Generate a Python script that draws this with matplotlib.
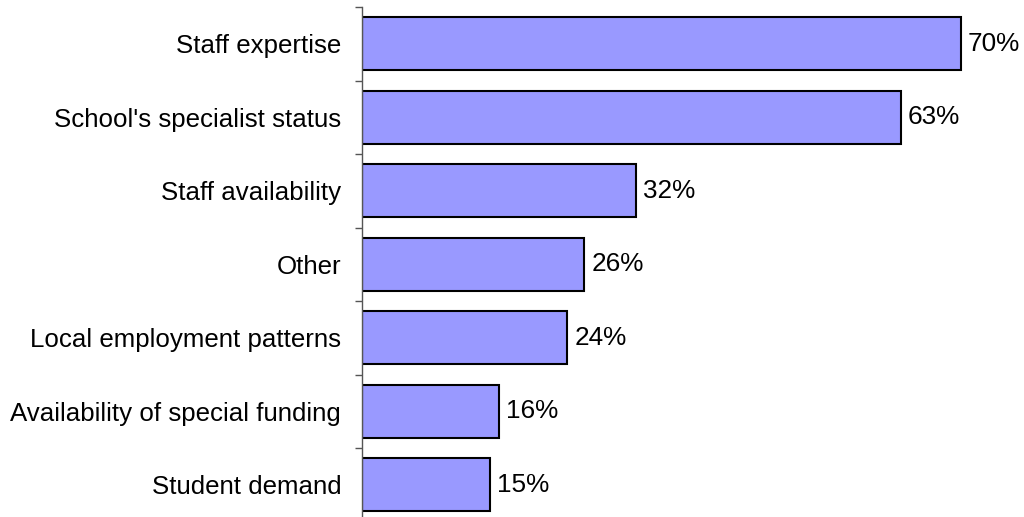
import numpy as np
import matplotlib.pyplot as plt

# data
categories = ["Staff expertise", "School's specialist status", "Staff availability", "Other",
              "Local employment patterns", "Availability of special funding", "Student demand"]
values = [70, 63, 32, 26, 24, 16, 15]

plt.rcParams['font.family'] = ['Liberation Sans', 'DejaVu Sans']

fig = plt.figure(figsize=(10.24, 5.17), dpi=100)
ax = fig.add_axes([362/1024, -4.5/517, 684.6/1024, 514.5/517])

y = np.arange(len(categories))
ax.barh(y, values, height=0.72, color='#9999FF', edgecolor='black', linewidth=1.5)
ax.set_xlim(0, 80)
ax.set_ylim(len(categories) - 0.5, -0.5)

for yi, v in zip(y, values):
    ax.text(v + 0.8, yi, f"{v}%", va='center', ha='left', fontsize=18.8)

ax.set_yticks(y)
ax.set_yticklabels(categories, fontsize=18.6)
ax.tick_params(axis='y', which='major', length=0, pad=15)
ax.set_yticks(np.arange(-0.5, len(categories), 1), minor=True)
ax.tick_params(axis='y', which='minor', length=5, color='#555555', width=1)
ax.set_xticks([])

for s in ['top', 'right', 'bottom']:
    ax.spines[s].set_visible(False)
ax.spines['left'].set_color('#555555')
ax.spines['left'].set_linewidth(1)

fig.savefig('out.png', dpi=100)
